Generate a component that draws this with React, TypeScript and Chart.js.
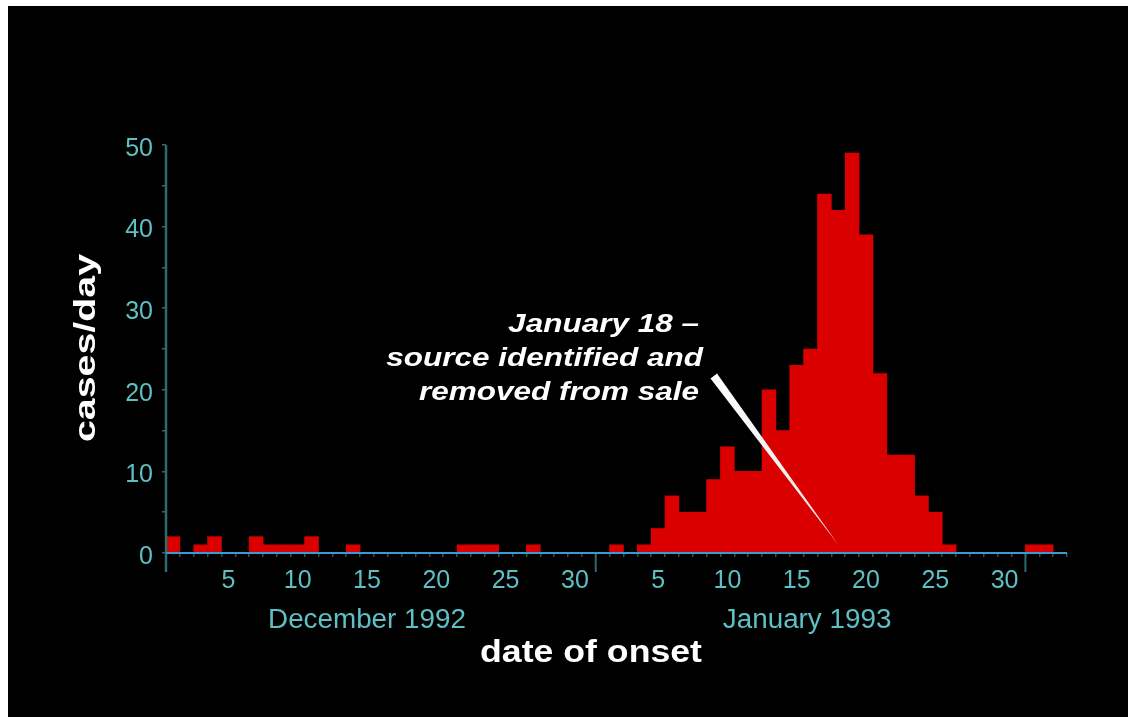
import React, { useEffect, useRef } from "react";
import { Chart, registerables } from "chart.js";

Chart.register(...registerables);

// ---------- data ----------
const categories = [
  "Dec 1", "Dec 2", "Dec 3", "Dec 4", "Dec 5", "Dec 6", "Dec 7", "Dec 8", "Dec 9", "Dec 10",
  "Dec 11", "Dec 12", "Dec 13", "Dec 14", "Dec 15", "Dec 16", "Dec 17", "Dec 18", "Dec 19", "Dec 20",
  "Dec 21", "Dec 22", "Dec 23", "Dec 24", "Dec 25", "Dec 26", "Dec 27", "Dec 28", "Dec 29", "Dec 30", "Dec 31",
  "Jan 1", "Jan 2", "Jan 3", "Jan 4", "Jan 5", "Jan 6", "Jan 7", "Jan 8", "Jan 9", "Jan 10",
  "Jan 11", "Jan 12", "Jan 13", "Jan 14", "Jan 15", "Jan 16", "Jan 17", "Jan 18", "Jan 19", "Jan 20",
  "Jan 21", "Jan 22", "Jan 23", "Jan 24", "Jan 25", "Jan 26", "Jan 27", "Jan 28", "Jan 29", "Jan 30", "Jan 31",
  "Feb 1", "Feb 2", "Feb 3",
];

const decCases = [2, 0, 1, 2, 0, 0, 2, 1, 1, 1, 2, 0, 0, 1, 0, 0, 0, 0, 0, 0, 0, 1, 1, 1, 0, 0, 1, 0, 0, 0, 0];
const janCases = [0, 1, 0, 1, 3, 7, 5, 5, 9, 13, 10, 10, 20, 15, 23, 25, 44, 42, 49, 39, 22, 12, 12, 7, 5, 1, 0, 0, 0, 0, 0];
const febCases = [1, 1, 0];

const labeledDays = [
  "Dec 5", "Dec 10", "Dec 15", "Dec 20", "Dec 25", "Dec 30",
  "Jan 5", "Jan 10", "Jan 15", "Jan 20", "Jan 25", "Jan 30",
];
const monthBoundaries = ["Jan 1", "Feb 1"];
const monthLabels = ["December 1992", "January 1993"];
const monthLabelAnchors = ["Dec 15", "Jan 16"];
const monthLabelShift = [0, -0.25];

const yMin = 0;
const yMax = 50;
const yStep = 5;
const yLabelEvery = 10;

const yTitle = "cases/day";
const xTitle = "date of onset";
const annotationLines = ["January 18 –", "source identified and", "removed from sale"];
const annotationDay = "Jan 18";
const annotationTipValue = 1;

// ---------- styles ----------
const BAR_RED = "#db0000";
const TEAL_TEXT = "#5cc0c5";
const TEAL_DARK = "#2c6c6e";
const AXIS_BLUE = "#3a9ad2";
const TICK_DARK = "#24575b";
const SANS = "'Liberation Sans', Arial, Helvetica, sans-serif";

function drawStretched(
  ctx: CanvasRenderingContext2D,
  text: string,
  x: number,
  y: number,
  sx: number,
  align: CanvasTextAlign
) {
  ctx.save();
  ctx.translate(x, y);
  ctx.scale(sx, 1);
  ctx.textAlign = align;
  ctx.fillText(text, 0, 0);
  ctx.restore();
}

const decorPlugin = {
  id: "decor",
  afterDatasetsDraw(chart: any) {
    const { ctx, chartArea, scales } = chart;
    const xs = scales.x;
    const ys = scales.y;
    const base = ys.getPixelForValue(0);
    const half = (xs.getPixelForValue(1) - xs.getPixelForValue(0)) / 2;
    ctx.save();

    // y axis line, extended below the baseline
    ctx.strokeStyle = TEAL_DARK;
    ctx.lineWidth = 2.5;
    ctx.beginPath();
    ctx.moveTo(chartArea.left, chartArea.top);
    ctx.lineTo(chartArea.left, base + 19);
    ctx.stroke();

    // month boundary long ticks
    ctx.lineWidth = 2;
    monthBoundaries.forEach((c) => {
      const px = xs.getPixelForValue(categories.indexOf(c)) - half;
      ctx.beginPath();
      ctx.moveTo(px, base);
      ctx.lineTo(px, base + 19);
      ctx.stroke();
    });

    // x axis line
    ctx.strokeStyle = AXIS_BLUE;
    ctx.lineWidth = 2;
    ctx.beginPath();
    ctx.moveTo(chartArea.left, base);
    ctx.lineTo(chartArea.right, base);
    ctx.stroke();

    ctx.textBaseline = "alphabetic";

    // month labels
    ctx.fillStyle = TEAL_TEXT;
    ctx.font = `27px ${SANS}`;
    monthLabels.forEach((m, i) => {
      const px = xs.getPixelForValue(categories.indexOf(monthLabelAnchors[i]) + monthLabelShift[i]);
      drawStretched(ctx, m, px, base + 75, 1.03, "center");
    });

    // x title
    ctx.fillStyle = "#ffffff";
    ctx.font = `bold 32px ${SANS}`;
    {
      const w = ctx.measureText(xTitle).width;
      drawStretched(ctx, xTitle, 583, base + 108.5, 222 / w, "center");
    }

    // y title
    ctx.save();
    ctx.translate(87, (chartArea.top + base) / 2 - 1);
    ctx.rotate(-Math.PI / 2);
    ctx.font = `bold 29px ${SANS}`;
    {
      const w = ctx.measureText(yTitle).width;
      drawStretched(ctx, yTitle, 0, 0, 188 / w, "center");
    }
    ctx.restore();

    // annotation text
    ctx.fillStyle = "#ffffff";
    ctx.font = `italic bold 25px ${SANS}`;
    const baselines = [326, 359.5, 393.5];
    const rights = [691, 695, 691];
    annotationLines.forEach((l, i) => drawStretched(ctx, l, rights[i], baselines[i], 1.26, "right"));

    // pointer wedge
    const tipX = xs.getPixelForValue(categories.indexOf(annotationDay));
    const tipY = ys.getPixelForValue(annotationTipValue);
    const grad = ctx.createLinearGradient(706, 370, tipX, tipY);
    grad.addColorStop(0, "#ffffff");
    grad.addColorStop(1, "#e4e4e4");
    ctx.fillStyle = grad;
    ctx.beginPath();
    ctx.moveTo(702.5, 372.5);
    ctx.lineTo(709, 367.5);
    ctx.lineTo(tipX, tipY);
    ctx.closePath();
    ctx.fill();

    ctx.restore();
  },
};

export default function App() {
  const canvasRef = useRef<HTMLCanvasElement | null>(null);

  useEffect(() => {
    const canvas = canvasRef.current;
    if (!canvas) return;
    const values = [...decCases, ...janCases, ...febCases];
    const chart = new Chart(canvas, {
      type: "bar",
      data: {
        labels: categories,
        datasets: [
          {
            data: values,
            backgroundColor: BAR_RED,
            borderWidth: 0,
            barPercentage: 1,
            categoryPercentage: 1,
          },
        ],
      },
      options: {
        animation: false,
        responsive: false,
        devicePixelRatio: 1,
        layout: { padding: { top: 139, right: 61, left: 0, bottom: 0 } },
        plugins: {
          legend: { display: false },
          tooltip: { enabled: false },
        },
        scales: {
          x: {
            type: "category",
            offset: true,
            border: { display: false },
            grid: {
              offset: true,
              drawOnChartArea: false,
              drawTicks: true,
              tickLength: 4,
              color: TICK_DARK,
              lineWidth: 1.5,
            },
            ticks: {
              autoSkip: false,
              maxRotation: 0,
              minRotation: 0,
              padding: 9,
              color: TEAL_TEXT,
              font: { family: SANS, size: 25 },
              callback: (_v: any, i: number) => {
                const c = categories[i];
                return labeledDays.includes(c) ? c.split(" ")[1] : "";
              },
            },
            afterFit: (scale: any) => {
              scale.height = 164;
            },
          },
          y: {
            min: yMin,
            max: yMax,
            border: { display: false },
            grid: {
              drawOnChartArea: false,
              drawTicks: true,
              tickLength: 4,
              color: TEAL_DARK,
              lineWidth: 1.5,
            },
            ticks: {
              stepSize: yStep,
              padding: 9,
              labelOffset: 4,
              color: TEAL_TEXT,
              font: { family: SANS, size: 25 },
              callback: (v: any) => (Number(v) % yLabelEvery === 0 ? String(v) : ""),
            },
            afterFit: (scale: any) => {
              scale.width = 158;
            },
          },
        },
      },
      plugins: [decorPlugin],
    });
    return () => chart.destroy();
  }, []);

  return (
    <div
      style={{
        position: "fixed",
        left: 8,
        top: 6,
        width: 1120,
        height: 711,
        background: "#000000",
        overflow: "hidden",
      }}
    >
      <canvas ref={canvasRef} width={1120} height={711} style={{ display: "block" }} />
    </div>
  );
}
